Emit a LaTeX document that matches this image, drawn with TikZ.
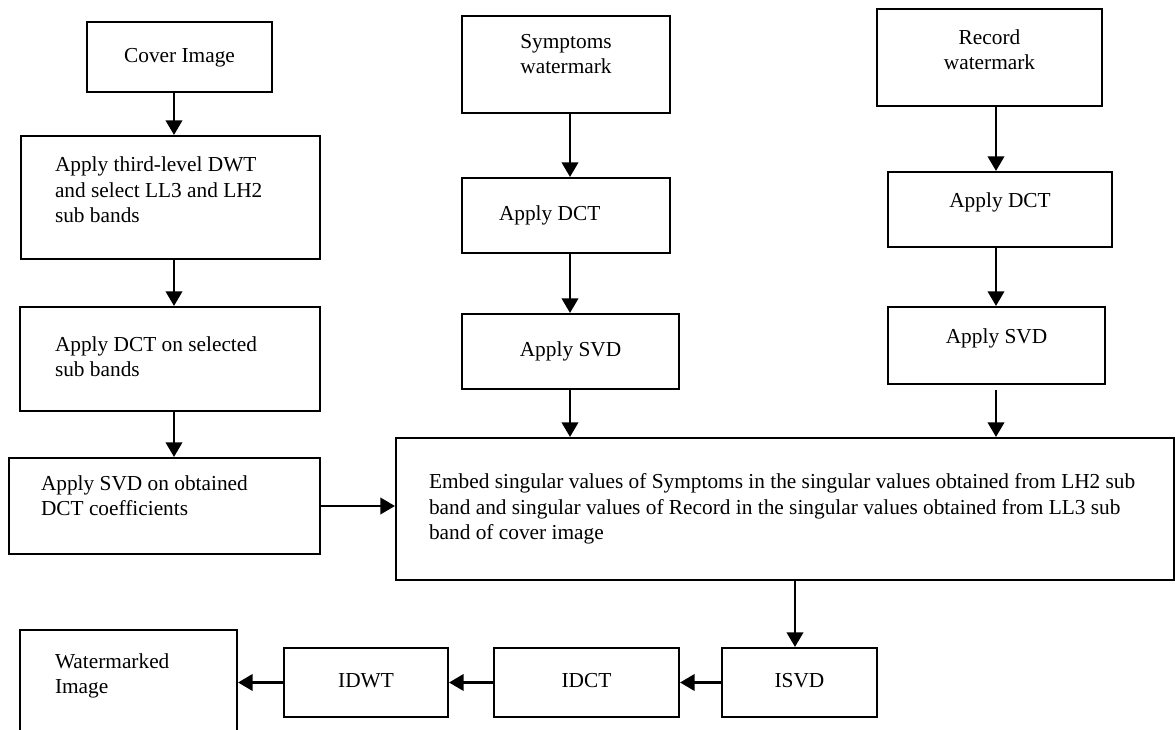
\documentclass[tikz,border=0pt]{standalone}
\usepackage{fontspec}
\setmainfont{Liberation Serif}
\usetikzlibrary{arrows.meta}
% left-aligned block of lines with a fixed width (lines never wrap)
\newcommand{\leftlines}[2]{\makebox[#1][l]{\begin{tabular}{@{}l@{}}#2\end{tabular}}}
% centred block of lines
\newcommand{\midlines}[1]{\begin{tabular}{@{}c@{}}#1\end{tabular}}
\begin{document}
\begin{tikzpicture}[x=0.75pt,y=-0.75pt,
  box/.style={draw, line width=1.6pt, inner ysep=0pt, inner xsep=0pt,
    font=\fontsize{16pt}{18.8pt}\selectfont},
  arr/.style={line width=1.6pt, -{Triangle[length=11pt,width=12.5pt]}}]
\clip (0,0) rectangle (1175,730);

% left column: cover image path
\node[box, minimum width=138.75pt, minimum height=52.5pt] (cover) at (179.5,57)
  {\midlines{Cover Image}};
\node[box, minimum width=224.25pt, minimum height=92.25pt, inner xsep=25.5pt] (dwt) at (170.5,197.5)
  {\leftlines{173.25pt}{Apply third-level DWT\\and select LL3 and LH2\\sub bands\\[8.25pt]}};
\node[box, minimum width=225pt, minimum height=78pt, inner xsep=26.25pt] (dct) at (170,359)
  {\leftlines{172.5pt}{Apply DCT on selected\\sub bands}};
\node[box, minimum width=233.25pt, minimum height=72pt, inner xsep=24pt] (svd) at (164.5,506)
  {\leftlines{185.25pt}{Apply SVD on obtained\\DCT coefficients\\[12pt]}};

% middle column: symptoms watermark
\node[box, minimum width=156pt, minimum height=72.75pt] (sym) at (566,64.5)
  {\midlines{Symptoms\\watermark\\[12.75pt]}};
\node[box, minimum width=156pt, minimum height=56.25pt, inner xsep=27.75pt] (sdct) at (566,215.5)
  {\leftlines{100.5pt}{Apply DCT}};
\node[box, minimum width=162.75pt, minimum height=56.25pt] (ssvd) at (570.5,351.5)
  {\midlines{Apply SVD}};

% right column: record watermark
\node[box, minimum width=168.75pt, minimum height=72.75pt] (rec) at (989.5,57.5)
  {\midlines{Record\\watermark\\[8.25pt]}};
\node[box, minimum width=168pt, minimum height=56.25pt] (rdct) at (1000,209.5)
  {\midlines{Apply DCT\\[11.25pt]}};
\node[box, minimum width=162.75pt, minimum height=57.75pt] (rsvd) at (996.5,345.5)
  {\midlines{Apply SVD\\[11.25pt]}};

% embedding step
\node[box, minimum width=583.5pt, minimum height=106.5pt, inner xsep=24.75pt] (embed) at (785,509)
  {\leftlines{534pt}{Embed singular values of Symptoms in the singular values obtained from LH2 sub\\band and singular values of Record in the singular values obtained from LL3 sub\\band of cover image}};

% inverse transforms
\node[box, minimum width=116.25pt, minimum height=51.75pt] (isvd) at (799.5,682.5) {\midlines{ISVD}};
\node[box, minimum width=138.75pt, minimum height=51.75pt] (idct) at (586.5,682.5) {\midlines{IDCT}};
\node[box, minimum width=123pt, minimum height=51.75pt] (idwt) at (366,682.5) {\midlines{IDWT}};
\node[box, minimum width=162.75pt, minimum height=86.25pt, inner xsep=26.25pt] (wm) at (128.5,687.5)
  {\leftlines{110.25pt}{Watermarked\\Image\\[17.25pt]}};

% arrow columns
\coordinate (lx) at (174,0);
\coordinate (mx) at (570,0);
\coordinate (rx) at (996,0);
\coordinate (ex) at (795,0);

\draw[arr] (cover.south -| lx) -- (dwt.north -| lx);
\draw[arr] (dwt.south -| lx) -- (dct.north -| lx);
\draw[arr] (dct.south -| lx) -- (svd.north -| lx);

\draw[arr] (sym.south -| mx) -- (sdct.north -| mx);
\draw[arr] (sdct.south -| mx) -- (ssvd.north -| mx);
\draw[arr] (ssvd.south -| mx) -- (embed.north -| mx);

\draw[arr] (rec.south -| rx) -- (rdct.north -| rx);
\draw[arr] (rdct.south -| rx) -- (rsvd.north -| rx);
\draw[arr] ([yshift=-3.75pt]rsvd.south -| rx) -- (embed.north -| rx);

\draw[arr] (svd.east) -- (svd.east -| embed.west);
\draw[arr] (embed.south -| ex) -- (isvd.north -| ex);
\draw[arr] (isvd.west) -- (idct.east);
\draw[arr] (idct.west) -- (idwt.east);
\draw[arr] (idwt.west) -- (idwt.west -| wm.east);
\end{tikzpicture}
\end{document}
